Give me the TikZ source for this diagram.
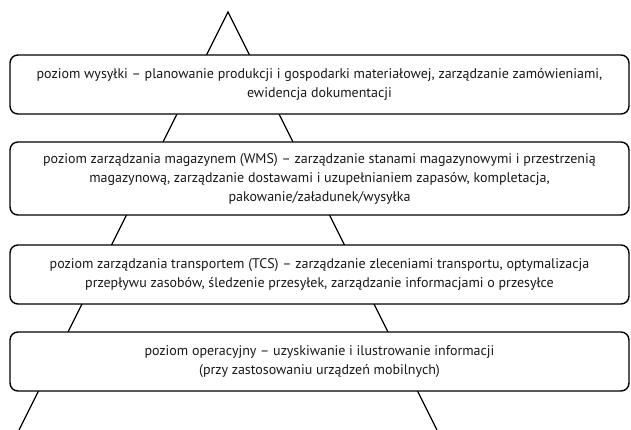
\documentclass[tikz,border=0pt]{standalone}
\usepackage{fontspec}
\setmainfont{PT Sans}
\begin{document}
\begin{tikzpicture}[x=1pt,y=-1pt,
  level/.style={draw=black, line width=1.4pt, rounded corners=8pt, fill=white,
    minimum width=619pt, inner sep=0pt, align=center,
    font=\fontsize{14}{19}\selectfont, text=black!90},
  side/.style={draw=black, line width=1.3pt}]
\useasboundingbox (0,0) rectangle (631,430);
\coordinate (apex) at (228,12);
\coordinate (bl) at (19,430);
\coordinate (br) at (437,430);
\draw[side] (bl) -- (apex) -- (br);
\node[level, minimum height=59pt] (l1) at (319.5,84.5)
  {poziom wysyłki – planowanie produkcji i gospodarki materiałowej, zarządzanie zamówieniami,\\ewidencja dokumentacji};
\node[level, minimum height=73pt] (l2) at (319.5,178.5)
  {poziom zarządzania magazynem (WMS) – zarządzanie stanami magazynowymi i przestrzenią\\magazynową, zarządzanie dostawami i uzupełnianiem zapasów, kompletacja,\\pakowanie/załadunek/wysyłka};
\node[level, minimum height=59pt] (l3) at (319.5,274.5)
  {poziom zarządzania transportem (TCS) – zarządzanie zleceniami transportu, optymalizacja\\przepływu zasobów, śledzenie przesyłek, zarządzanie informacjami o przesyłce};
\node[level, minimum height=59pt] (l4) at (319.5,361.5)
  {poziom operacyjny – uzyskiwanie i ilustrowanie informacji\\(przy zastosowaniu urządzeń mobilnych)};
\end{tikzpicture}
\end{document}
